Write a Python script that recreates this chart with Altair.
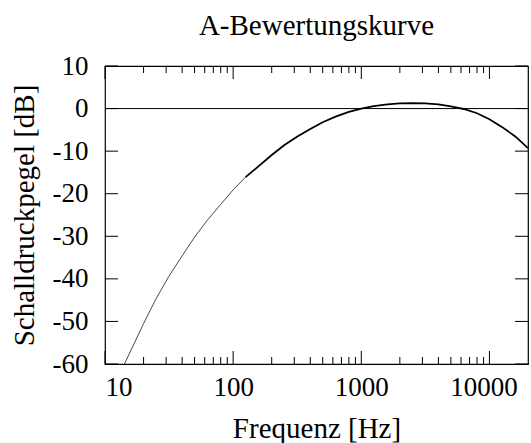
import altair as alt
import pandas as pd

# A-weighting values (third-octave frequencies)
freq = [10, 12.5, 16, 20, 25, 31.5, 40, 50, 63, 80, 100, 125, 160, 200, 250, 315, 400, 500,
        630, 800, 1000, 1250, 1600, 2000, 2500, 3150, 4000, 5000, 6300, 8000, 10000,
        12500, 16000, 20000]
dba = [-70.4, -63.4, -56.7, -50.5, -44.7, -39.4, -34.6, -30.2, -26.2, -22.5, -19.1, -16.1,
       -13.4, -10.9, -8.6, -6.6, -4.8, -3.2, -1.9, -0.8, 0.0, 0.6, 1.0, 1.2, 1.3, 1.2, 1.0,
       0.5, -0.1, -1.1, -2.5, -4.3, -6.6, -9.3]

x_major = [10, 100, 1000, 10000]
x_minor = [20, 30, 40, 50, 60, 70, 80, 90,
           200, 300, 400, 500, 600, 700, 800, 900,
           2000, 3000, 4000, 5000, 6000, 7000, 8000, 9000]
y_ticks = [-60, -50, -40, -30, -20, -10, 0, 10]

W, H = 423, 298
FONT = "Liberation Serif"
FS = 27
TFS = 29

xs = alt.Scale(type="log", domain=[10, 20000], nice=False)
ys = alt.Scale(domain=[-60, 10], nice=False, zero=False)

df = pd.DataFrame({"f": freq, "db": dba})
thin = df[df["f"] <= 125].reset_index(drop=True)
thick = df[df["f"] >= 125].reset_index(drop=True)

axis_x = alt.Axis(values=x_major, ticks=False, domain=False, grid=False,
                  labelFont=FONT, labelFontSize=FS, labelColor="black",
                  labelExpr="datum.value + ''", labelPadding=10,
                  labelOffset={"condition": {"test": "datum.value == 10000", "value": -6}, "value": 0},
                  title="Frequenz [Hz]", titleFont=FONT, titleFontSize=TFS,
                  titleFontWeight="normal", titleColor="black", titlePadding=14)
axis_y = alt.Axis(values=y_ticks, ticks=False, domain=False, grid=False,
                  labelFont=FONT, labelFontSize=FS, labelColor="black",
                  labelExpr="datum.value + ''", labelPadding=17,
                  title="Schalldruckpegel [dB]", titleFont=FONT, titleFontSize=TFS,
                  titleFontWeight="normal", titleColor="black", titlePadding=13)

thin_line = alt.Chart(thin).mark_line(color="#333333", strokeWidth=0.9, clip=True).encode(
    x=alt.X("f:Q", scale=xs, axis=axis_x),
    y=alt.Y("db:Q", scale=ys, axis=axis_y),
)
thick_line = alt.Chart(thick).mark_line(color="black", strokeWidth=1.8, clip=True).encode(
    x=alt.X("f:Q", scale=xs),
    y=alt.Y("db:Q", scale=ys),
)

zero = alt.Chart(pd.DataFrame({"db": [0]})).mark_rule(color="black", strokeWidth=1).encode(
    y=alt.Y("db:Q", scale=ys), x=alt.value(0), x2=alt.value(W))

dmaj = pd.DataFrame({"f": x_major})
dmin = pd.DataFrame({"f": x_minor})
dy = pd.DataFrame({"db": y_ticks})

def xtick(d, length):
    bot = alt.Chart(d).mark_rule(color="black", strokeWidth=1).encode(
        x=alt.X("f:Q", scale=xs), y=alt.value(H), y2=alt.value(H - length))
    top = alt.Chart(d).mark_rule(color="black", strokeWidth=1).encode(
        x=alt.X("f:Q", scale=xs), y=alt.value(0), y2=alt.value(length))
    return [bot, top]

yl = alt.Chart(dy).mark_rule(color="black", strokeWidth=1).encode(
    y=alt.Y("db:Q", scale=ys), x=alt.value(0), x2=alt.value(13))
yr = alt.Chart(dy).mark_rule(color="black", strokeWidth=1).encode(
    y=alt.Y("db:Q", scale=ys), x=alt.value(W - 13), x2=alt.value(W))

chart = alt.layer(
    thin_line, thick_line, zero, *xtick(dmaj, 13), *xtick(dmin, 7), yl, yr
).properties(
    width=W, height=H,
    title=alt.TitleParams("A-Bewertungskurve", font=FONT, fontSize=TFS, fontWeight="normal",
                          color="black", anchor="middle", offset=11),
    autosize=alt.AutoSizeParams(type="none"),
    padding={"left": 105, "top": 66, "right": 3, "bottom": 79},
    background="white",
).configure_view(stroke="black", strokeWidth=1.2)

chart.save("out.html", embed_options={"renderer": "svg", "actions": False})
